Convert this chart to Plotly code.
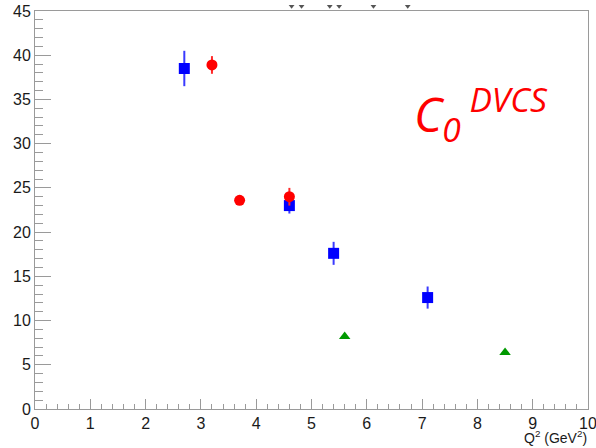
import plotly.graph_objects as go

# Blue squares
blue_q2 = [2.7, 4.6, 5.4, 7.1]
blue_c0 = [38.5, 23.0, 17.6, 12.6]
blue_err = [2.0, 0.9, 1.3, 1.25]

# Red circles
red_q2 = [3.2, 3.7, 4.6]
red_c0 = [38.9, 23.6, 24.0]
red_err = [1.0, 0.5, 1.0]

# Green triangles
green_q2 = [5.6, 8.5]
green_c0 = [8.2, 6.4]

# Points sitting just above the displayed range (only their tails show at the top edge)
offscale_q2 = [4.64, 4.82, 5.33, 5.5, 6.12, 6.74]
offscale_c0 = [45.55, 45.55, 45.55, 45.55, 45.55, 45.55]

x_ticks = list(range(0, 11))
y_ticks = list(range(0, 46, 5))

font_family = "Liberation Sans, Arial, Helvetica, sans-serif"

# Frame geometry: the thin strip above the frame gets its own invisible axes
H, M_BOT, STRIP = 448, 39, 11
plot_h = H - M_BOT
frame_top = (plot_h - STRIP) / plot_h
units_per_px = 45 / (plot_h - STRIP)

fig = go.Figure()

fig.add_trace(go.Scatter(
    x=blue_q2, y=blue_c0, mode="markers",
    marker=dict(symbol="square", size=11, color="#0000ff"),
    error_y=dict(type="data", array=blue_err, color="#3a3aff", thickness=2, width=0),
    showlegend=False,
))
fig.add_trace(go.Scatter(
    x=red_q2, y=red_c0, mode="markers",
    marker=dict(symbol="circle", size=11, color="#ff0000"),
    error_y=dict(type="data", array=red_err, color="#ff2a2a", thickness=2, width=0),
    showlegend=False,
))
fig.add_trace(go.Scatter(
    x=green_q2, y=green_c0, mode="markers",
    marker=dict(symbol="triangle-up", size=10, color="#009900"),
    showlegend=False,
))
fig.add_trace(go.Scatter(
    x=offscale_q2, y=offscale_c0, mode="markers", xaxis="x2", yaxis="y2",
    marker=dict(symbol="triangle-down", size=5, color="#555555"),
    showlegend=False,
))

axis_common = dict(
    showgrid=False, zeroline=False, automargin=False,
    showline=True, linecolor="#9a9a9a", linewidth=1, mirror=True,
    ticks="inside", tickcolor="#9a9a9a", tickwidth=1,
    ticklabeloverflow="allow",
    tickfont=dict(family=font_family, size=16, color="#1a1a1a"),
)

fig.update_layout(
    width=596, height=H,
    margin=dict(l=35, r=8, t=0, b=M_BOT),
    paper_bgcolor="white", plot_bgcolor="rgba(0,0,0,0)",
    xaxis=dict(
        range=[0, 10], tickvals=x_ticks, ticklen=10,
        minor=dict(dtick=0.2, ticks="inside", ticklen=5, tickcolor="#9a9a9a", showgrid=False),
        **axis_common,
    ),
    yaxis=dict(
        range=[0, 45], tickvals=y_ticks, ticklen=16, domain=[0, frame_top],
        minor=dict(dtick=1, ticks="inside", ticklen=8, tickcolor="#9a9a9a", showgrid=False),
        **axis_common,
    ),
    xaxis2=dict(range=[0, 10], anchor="y2", visible=False),
    yaxis2=dict(range=[45, 45 + STRIP * units_per_px], domain=[frame_top, 1],
                anchor="x2", visible=False),
)

fig.add_annotation(
    xref="paper", yref="paper", x=1.0, y=-0.093,
    xanchor="right", yanchor="bottom", showarrow=False,
    text="Q<sup>2</sup> (GeV<sup>2</sup>)",
    font=dict(family=font_family, size=14, color="#1a1a1a"),
    borderpad=0,
)

fig.add_annotation(
    x=6.82, y=33.3, xanchor="left", yanchor="middle", showarrow=False,
    text="<i>C<sub>0</sub><sup> DVCS</sup></i>",
    font=dict(family="Open Sans, DejaVu Sans, sans-serif", size=48, color="#ff0000"),
)

fig.write_html("out.html")
